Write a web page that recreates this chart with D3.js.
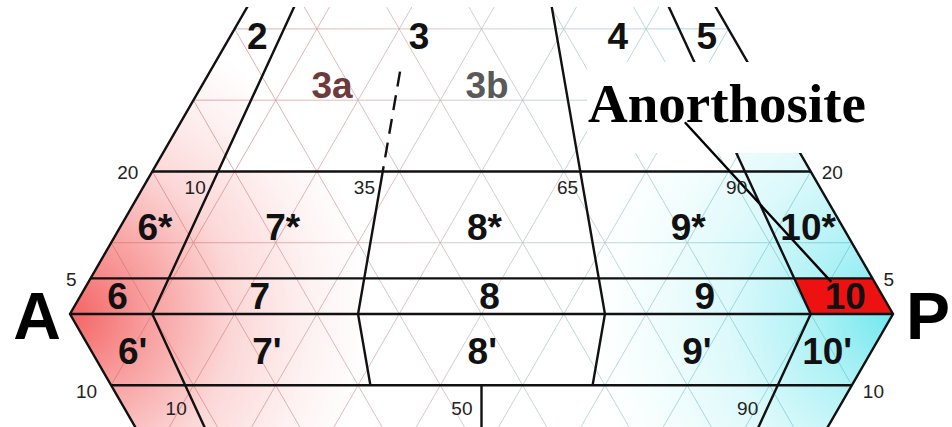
<!DOCTYPE html>
<html><head><meta charset="utf-8">
<script src="https://cdn.jsdelivr.net/npm/d3@7"></script>
<style>body{margin:0;background:#fff}svg{display:block}</style>
</head><body>
<svg id="chart" width="952" height="427"></svg>
<script>
// ---------- data (QAPF diagram, Q / A / P / F in %) ----------
const ratioBoundaries = [10, 35, 65, 90];      // P/(A+P) % boundaries, F=10 .. Q
const lowerRatioBoundaries = [10, 50, 90];     // boundaries below F = 10
const qBoundaries = [20, 5];                   // Q % boundaries
const fBoundaries = [10];                      // F % boundaries
const dashedRatio = 35;                        // 3a / 3b split
const dashedFromQ = 20, dashedToQ = 34;
const gridLevels = [10, 20, 30, 40, 50, 60, 70, 80, 90];

const fieldLabels = ["2","3","4","5","3a","3b",
  "6*","7*","8*","9*","10*",
  "6","7","8","9","10",
  "6'","7'","8'","9'","10'"];
const fieldRatio = [5.4, 37.6, 77.1, 94.8, 23.3, 51.0,
  4.8, 22.5, 50.4, 78.6, 95.2,
  4.7, 22.4, 51.0, 77.8, 95.3,
  5.3, 22.5, 50.1, 77.6, 94.3];
const fieldQF = [38.9, 38.9, 38.9, 38.9, 32.0, 32.0,
  12.2, 12.2, 12.2, 12.2, 12.2,
  2.4, 2.4, 2.4, 2.4, 2.4,
  -5.2, -5.2, -5.2, -5.2, -5.2];      // + = Q %, - = F %
const fieldColors = ["#111","#111","#111","#111","#6e3b3b","#595959",
  "#111","#111","#111","#111","#111","#111","#111","#111","#111","#111",
  "#111","#111","#111","#111","#111"];

const sideTickLabels = ["20", "5", "10"];
const sideTickQF = [20, 5, -10];
const ratioTickLabels = ["10", "35", "65", "90"];
const lowerTickLabels = ["10", "50", "90"];

const highlightRatio = [90, 100], highlightQ = [0, 5];   // field 10 (anorthosite)
const calloutText = "Anorthosite";
const calloutRatio = [83.8, 94.5], calloutQ = [26.9, 4.5];
const vertexLabels = ["A", "P"];

// ---------- geometry ----------
const svg = d3.select("#chart");
const side = 823, tri = side * Math.sqrt(3) / 2;
const x = d3.scaleLinear().domain([0, 100]).range([70, 70 + side]);
const y = d3.scaleLinear().domain([0, 100]).range([314, 314 - tri]);
// ratio r = P/(A+P)*100 ; s = Q% (>0) or -F% (<0)
const pr = (r, s) => { const a = Math.abs(s); return [x(a / 2 + r * (100 - a) / 100), y(s)]; };
const line = d3.line();

const defs = svg.append("defs");
defs.append("clipPath").attr("id", "view").append("rect")
  .attr("x", 0).attr("y", 7).attr("width", 952).attr("height", 420);
const rg = defs.append("radialGradient").attr("id", "redG").attr("gradientUnits", "userSpaceOnUse")
  .attr("cx", x(0)).attr("cy", y(0)).attr("r", 300);
[[0, "#f46464"], [0.25, "#f89c9c"], [0.55, "#fcd8d8"], [0.8, "#fef1f1"], [1, "#ffffff"]].forEach(([o, c]) =>
  rg.append("stop").attr("offset", o).attr("stop-color", c));
const cg = defs.append("radialGradient").attr("id", "cyanG").attr("gradientUnits", "userSpaceOnUse")
  .attr("cx", x(100)).attr("cy", y(0)).attr("r", 300);
[[0, "#72e8ef"], [0.25, "#acf1f5"], [0.55, "#dcf9fb"], [0.8, "#f2fdfd"], [1, "#ffffff"]].forEach(([o, c]) =>
  cg.append("stop").attr("offset", o).attr("stop-color", c));
const gg = defs.append("linearGradient").attr("id", "gridG").attr("gradientUnits", "userSpaceOnUse")
  .attr("x1", x(0)).attr("x2", x(100)).attr("y1", 0).attr("y2", 0);
[[0, "#d86a6a"], [0.3, "#d49a9a"], [0.5, "#bcbcbc"], [0.68, "#a0c8cc"], [1, "#5cc6ce"]].forEach(([o, c]) =>
  gg.append("stop").attr("offset", o).attr("stop-color", c));

const fillClip = defs.append("clipPath").attr("id", "fillClip");
fillClip.append("path").attr("d", line([pr(0, 20), pr(100, 20), pr(100, 0), pr(50, -100), pr(0, 0)]) + "Z");
fillClip.append("path").attr("d", line([pr(0, 20), pr(0, 100), pr(10, 20)]) + "Z");
fillClip.append("path").attr("d", line([pr(90, 20), pr(100, 100), pr(100, 20)]) + "Z");

const g = svg.append("g").attr("clip-path", "url(#view)");

// background fills
const fg = g.append("g").attr("clip-path", "url(#fillClip)");
fg.append("rect").attr("x", 0).attr("y", 0).attr("width", 952).attr("height", 427).attr("fill", "#fff");
fg.append("rect").attr("x", 0).attr("y", 0).attr("width", 480).attr("height", 427).attr("fill", "url(#redG)");
fg.append("rect").attr("x", 480).attr("y", 0).attr("width", 472).attr("height", 427).attr("fill", "url(#cyanG)");

// grid
const xy = (p, q) => [x(p + Math.abs(q) / 2), y(q)];   // P%, signed Q/F %
const gridSegs = [];
gridLevels.forEach(k => {
  [1, -1].forEach(sg => {
    if (sg > 0) gridSegs.push([xy(0, k), xy(100 - k, k)]);
    gridSegs.push([xy(k, 0), xy(k, sg * (100 - k))]);
    gridSegs.push([xy(100 - k, 0), xy(0, sg * (100 - k))]);
  });
});
g.append("g").selectAll("path").data(gridSegs).join("path")
  .attr("d", d => line(d)).attr("stroke", "url(#gridG)").attr("stroke-width", 1)
  .attr("fill", "none").attr("opacity", 0.7);

// highlighted field 10
g.append("path")
  .attr("d", line([pr(highlightRatio[0], highlightQ[0]), pr(highlightRatio[1], highlightQ[0]),
                   pr(highlightRatio[1], highlightQ[1]), pr(highlightRatio[0], highlightQ[1])]) + "Z")
  .attr("fill", "#ee1111");

// field boundaries
const bl = g.append("g").attr("stroke", "#111").attr("stroke-width", 2.4).attr("fill", "none")
  .attr("stroke-linejoin", "miter");
const poly = (pts, dash) => bl.append("path").attr("d", line(pts)).attr("stroke-dasharray", dash || null);
poly([pr(0, 100), pr(0, 0), pr(0, -100)]);       // A edges
poly([pr(100, 100), pr(100, 0), pr(100, -100)]); // P edges
poly([pr(0, 0), pr(100, 0)]);
qBoundaries.forEach(q => poly([pr(0, q), pr(100, q)]));
fBoundaries.forEach(f => poly([pr(0, -f), pr(100, -f)]));
ratioBoundaries.forEach(r => {
  if (r === dashedRatio) {
    poly([pr(r, -fBoundaries[0]), pr(r, 0), pr(r, dashedFromQ)]);
    poly([pr(r, dashedToQ), pr(r, dashedFromQ)], "15,9");
  } else {
    poly([pr(r, -fBoundaries[0]), pr(r, 0), pr(r, 60)]);
  }
});
lowerRatioBoundaries.forEach(r => poly([pr(r, -fBoundaries[0]), pr(r, -100)]));

// callout
const cbox = g.append("rect").attr("fill", "#fff");
const ctext = svg.append("text").text(calloutText)
  .attr("x", 588).attr("y", 122)
  .attr("font-family", "'Liberation Serif','Times New Roman',serif")
  .attr("font-weight", "bold").attr("font-size", 55).attr("fill", "#000");
const bb = ctext.node().getBBox();
cbox.attr("x", bb.x - 1).attr("y", bb.y - 11).attr("width", bb.width + 14).attr("height", bb.height + 30);
svg.append("path").attr("d", line([pr(calloutRatio[0], calloutQ[0]), pr(calloutRatio[1], calloutQ[1])]))
  .attr("stroke", "#000").attr("stroke-width", 2.4);

// field labels
svg.append("g").selectAll("text").data(fieldLabels).join("text")
  .text(d => d)
  .attr("x", (d, i) => pr(fieldRatio[i], fieldQF[i])[0])
  .attr("y", (d, i) => pr(fieldRatio[i], fieldQF[i])[1])
  .attr("text-anchor", "middle").attr("dominant-baseline", "central")
  .attr("font-family", "'Liberation Sans',Arial,sans-serif").attr("font-weight", "bold")
  .attr("font-size", 37).attr("fill", (d, i) => fieldColors[i]);

// tick labels
const small = svg.append("g").attr("font-family", "'Liberation Sans',Arial,sans-serif")
  .attr("font-size", 19).attr("fill", "#222").attr("dominant-baseline", "central");
sideTickLabels.forEach((t, i) => {
  const s = sideTickQF[i], dy = s < 0 ? 6 : 1;
  const L = pr(0, s), R = pr(100, s);
  small.append("text").text(t).attr("x", L[0] - 14).attr("y", L[1] + dy).attr("text-anchor", "end");
  small.append("text").text(t).attr("x", R[0] + 11).attr("y", R[1] + dy).attr("text-anchor", "start");
});
ratioTickLabels.forEach((t, i) => {
  const p = pr(ratioBoundaries[i], 20 - 16 / tri * 100);
  small.append("text").text(t).attr("x", p[0] - 5).attr("y", p[1]).attr("text-anchor", "end");
});
lowerTickLabels.forEach((t, i) => {
  const p = pr(lowerRatioBoundaries[i], -13.2);
  small.append("text").text(t).attr("x", p[0] - 9).attr("y", p[1]).attr("text-anchor", "end");
});

// vertex labels
svg.append("g").selectAll("text").data(vertexLabels).join("text")
  .text(d => d)
  .attr("x", (d, i) => i === 0 ? x(0) - 33 : x(100) + 35)
  .attr("y", y(0) + 2)
  .attr("text-anchor", "middle").attr("dominant-baseline", "central")
  .attr("font-family", "'Liberation Sans',Arial,sans-serif").attr("font-weight", "bold")
  .attr("font-size", 66).attr("fill", "#000");
</script>
</body></html>
